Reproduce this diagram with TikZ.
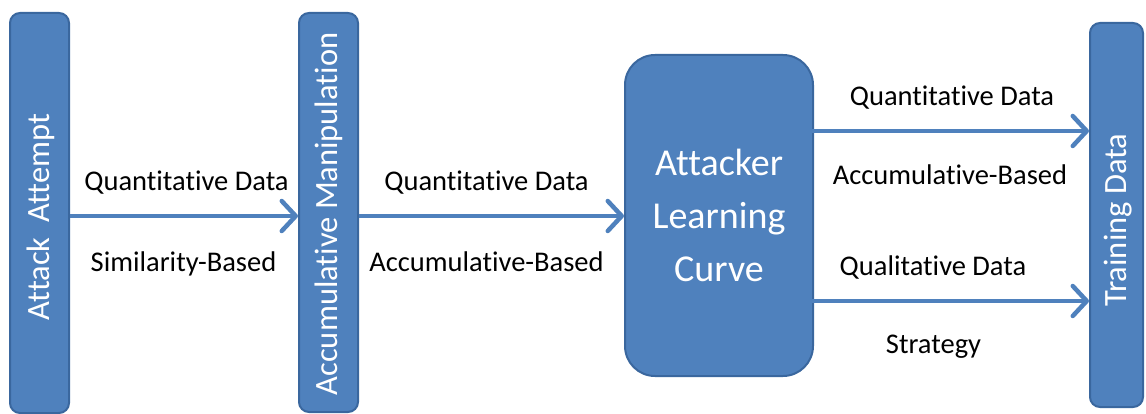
\documentclass[tikz,border=0pt]{standalone}
\usepackage{fontspec}
\setmainfont{Carlito}[Ligatures={NoCommon}]
\usetikzlibrary{arrows.meta,calc}
\definecolor{boxfill}{HTML}{4F81BD}
\definecolor{boxedge}{HTML}{3A679E}
\begin{document}
\begin{tikzpicture}[x=1pt,y=-1pt,
  bar/.style={draw=boxedge, fill=boxfill, line width=2pt, rounded corners=10pt, inner sep=0pt},
  bartext/.style={text=white, font=\fontsize{32.5}{38}\selectfont, rotate=90, inner sep=0pt},
  flow/.style={draw=boxfill, line width=4.5pt, -{Straight Barb[length=14pt,width=30pt,line cap=round,line join=round]}},
  lbl/.style={font=\fontsize{28.5}{34}\selectfont, text=black, inner sep=0pt, anchor=base}
]
\useasboundingbox (0,0) rectangle (1146,414);

% boxes
\node[bar, minimum width=59pt, minimum height=400pt] (aa) at (39.5,213) {};
\node[bartext] (aat) at (41,217) {Attack\ \ Attempt};
\node[bar, minimum width=59pt, minimum height=399pt] (am) at (328.5,212.5) {};
\node[bartext] (amt) at (329,214) {Accumulative Manipulation};
\node[draw=boxedge, fill=boxfill, line width=2pt, rounded corners=30pt, inner sep=0pt,
      minimum width=188pt, minimum height=321pt, align=center, text=white,
      font=\fontsize{38}{53}\selectfont] (alc) at (719,215.5) {Attacker\\Learning\\Curve};
\node[bar, minimum width=53pt, minimum height=384pt] (td) at (1116.5,215) {};
\node[bartext] (tdt) at (1118,220) {Training Data};

% connectors
\coordinate (r1) at (0,216);
\coordinate (s1) at (775,131);
\coordinate (s2) at (775,301);
\draw[flow] (aa.east |- r1) -- (am.west |- r1);
\draw[flow] (am.east |- r1) -- (alc.west |- r1);
\draw[flow] (s1) -- (td.west |- s1);
\draw[flow] (s2) -- (td.west |- s2);

% labels
\node[lbl] (l1) at (186.5,191) {Quantitative Data};
\node[lbl] (l2) at (183.5,272) {Similarity-Based};
\node[lbl] (l3) at (486.5,191) {Quantitative Data};
\node[lbl] (l4) at (486.5,271) {Accumulative-Based};
\node[lbl] (l5) at (952,106) {Quantitative Data};
\node[lbl] (l6) at (950,185) {Accumulative-Based};
\node[lbl] (l7) at (933,275) {Qualitative Data};
\node[lbl] (l8) at (933.5,353) {Strategy};
\end{tikzpicture}
\end{document}
